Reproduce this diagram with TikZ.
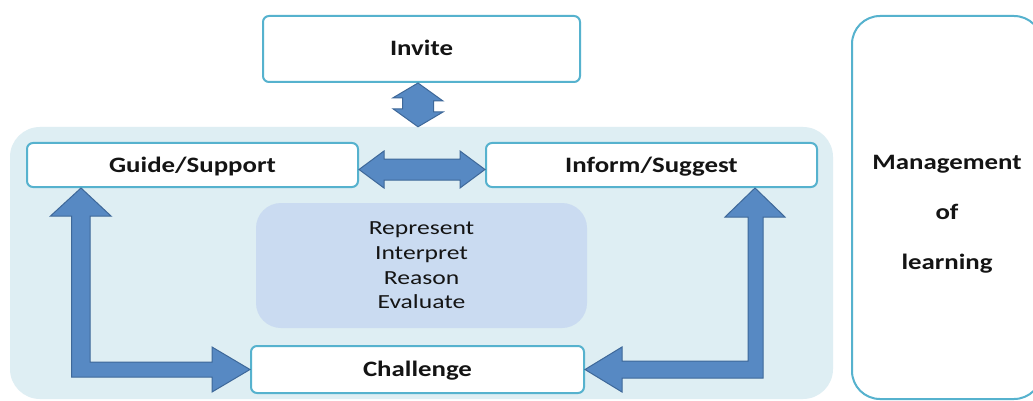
\documentclass[tikz,border=0pt]{standalone}
\usepackage{fontspec}
\setmainfont{Carlito}[FakeStretch=1.22]
\newfontfamily\midfont{Carlito}[FakeStretch=1.28]
\usetikzlibrary{calc}
\definecolor{boxc}{RGB}{86,178,206}
\definecolor{bgc}{RGB}{222,238,243}
\definecolor{midc}{RGB}{202,219,241}
\definecolor{arrfill}{RGB}{87,137,195}
\definecolor{arrdraw}{RGB}{62,104,153}
\definecolor{txt}{RGB}{20,20,20}
\tikzset{
  labelbox/.style={draw=boxc, line width=2pt, fill=white, rounded corners=6pt,
    inner sep=0pt, text=txt, text height=14pt, text depth=0pt,
    font=\bfseries\fontsize{22}{26}\selectfont},
  panelbox/.style={fill=bgc, rounded corners=30pt, inner sep=0pt},
  midbox/.style={fill=midc, rounded corners=25pt, inner sep=0pt, align=center,
    text=txt, font=\midfont\fontsize{20}{24.7}\selectfont},
  sidebox/.style={draw=boxc, line width=2pt, fill=white, rounded corners=28pt, inner sep=0pt},
  blockarrow/.style={fill=arrfill, draw=arrdraw, line width=1pt, line join=miter},
}
\begin{document}
\begin{tikzpicture}[x=1pt,y=-1pt]
\useasboundingbox (0,0) rectangle (1033,401);
\clip (0,0) rectangle (1033,401);
\fill[white] (0,0) rectangle (1033,401);

% panel and side box
\node[panelbox, minimum width=823pt, minimum height=272pt] (panel) at (421.5,263) {};
\node[sidebox, minimum width=190pt, minimum height=383pt] (mbox) at (947,207.5) {};
\node[text=txt, align=center, font=\bfseries\fontsize{22}{50}\selectfont] (mtext) at (947,214) {Management\\of\\learning};

% boxes
\node[labelbox, minimum width=317pt, minimum height=66pt] (invite) at (421.5,49) {Invite};
\node[labelbox, minimum width=331pt, minimum height=44pt] (guide) at (192.5,165) {Guide/Support};
\node[labelbox, minimum width=331pt, minimum height=44pt] (inform) at (651.5,165) {Inform/Suggest};
\node[labelbox, minimum width=333pt, minimum height=47pt] (challenge) at (417.5,369.5) {Challenge};
\node[midbox, minimum width=331pt, minimum height=125pt] (mid) at (421.5,265.5) {Represent\\Interpret\\Reason\\Evaluate};

% vertical double arrow Invite <-> panel
\coordinate (p) at ($(invite.south)+(-3.5,0)$);
\coordinate (q) at (panel.north -| p);
\path[blockarrow] (p) -- ++(25,18) -- ++(-9.5,0) -- ++(0,11) -- ++(9.5,0) -- (q)
  -- ++(-25,-18) -- ++(9.5,0) -- ++(0,-11) -- ++(-9.5,0) -- cycle;

% horizontal double arrow Guide <-> Inform
\coordinate (a) at ($(guide.east)+(0,4.5)$);
\coordinate (b) at ($(inform.west)+(0,4.5)$);
\path[blockarrow] (a) -- ++(25,-18.5) -- ++(0,8) -- ($(b)+(-25,-10.5)$) -- ++(0,-8) -- (b)
  -- ++(-25,18.5) -- ++(0,-8) -- ($(a)+(25,10.5)$) -- ++(0,8) -- cycle;

% left elbow arrow Guide <-> Challenge
\coordinate (t1) at (guide.south -| 81,0);
\coordinate (t2) at (challenge.west);
\path[blockarrow] (t1) -- ++(30,28) -- ++(-21,0) |- ($(t2)+(-38,-7.5)$) -- ++(0,-15) -- (t2)
  -- ++(-38,22.5) -- ++(0,-15) -| ($(t1)+(-9.5,28)$) -- ++(-21,0) -- cycle;

% right elbow arrow Inform <-> Challenge
\coordinate (t3) at (inform.south -| 755,0);
\coordinate (t4) at (challenge.east);
\path[blockarrow] (t3) -- ++(30,29) -- ++(-22,0) |- ($(t4)+(37,8.5)$) -- ++(0,14) -- (t4)
  -- ++(37,-22.5) -- ++(0,14) -| ($(t3)+(-7,29)$) -- ++(-23,0) -- cycle;
\end{tikzpicture}
\end{document}
